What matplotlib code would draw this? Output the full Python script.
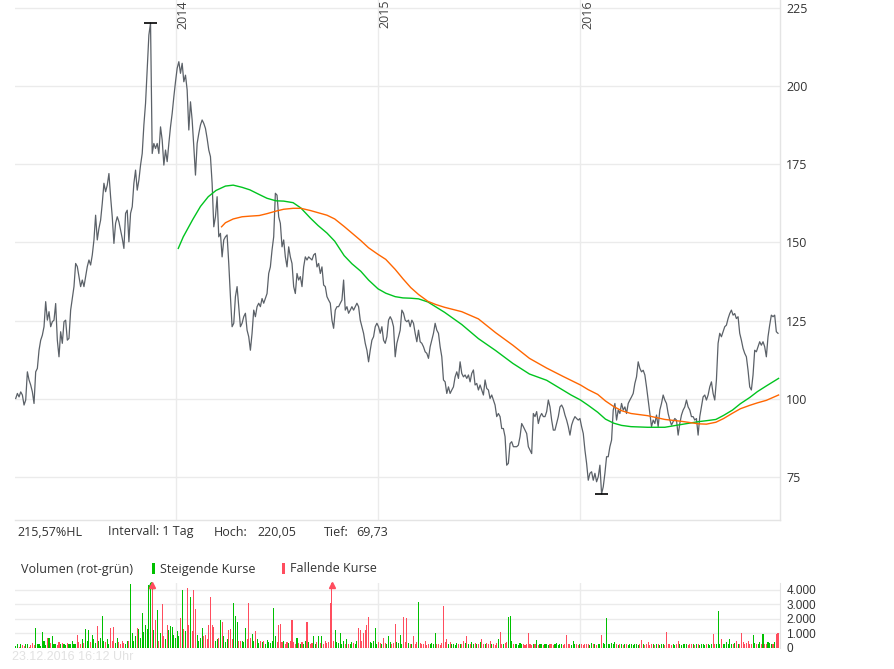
import matplotlib
matplotlib.use('Agg')
import matplotlib.pyplot as plt
import matplotlib.dates as mdates
from matplotlib.patches import Rectangle
import pandas as pd

# ---------------- data ----------------
price_start = '2013-03-19'   # first close, then one value every 3 days
price = [
    100.2, 101.8, 100.7, 102.3, 101.3, 98.1, 99.7, 108.7, 106.1, 104.5,
    102.3, 98.6, 108.7, 109.8, 115.6, 118.8, 120.4, 123.1, 131.1, 125.2,
    127.9, 123.1, 124.7, 125.2, 130.5, 118.8, 113.5, 121.5, 117.8, 124.7,
    125.2, 118.8, 119.4, 128.4, 132.1, 135.9, 143.3, 142.3, 139.1, 135.9,
    138.0, 135.9, 139.1, 142.3, 144.4, 142.8, 146.0, 150.8, 158.7, 150.8,
    154.5, 157.1, 162.5, 168.9, 166.2, 168.3, 172.0, 164.6, 158.2, 149.7,
    156.1, 158.2, 156.6, 153.9, 151.3, 148.1, 159.3, 160.3, 150.2, 159.3,
    161.4, 168.9, 173.1, 166.7, 169.9, 174.7, 178.4, 187.5, 194.4, 205.6,
    216.2, 220.05, 178.4, 181.6, 180.0, 181.6, 178.4, 186.9, 182.7, 174.7,
    179.5, 175.8, 181.6, 186.9, 191.2, 196.5, 201.3, 205.6, 207.7, 204.0,
    207.2, 201.3, 203.4, 198.7, 185.9, 194.9, 189.1, 180.6, 171.5, 181.6,
    184.8, 187.5, 189.1, 188.0, 186.4, 183.2, 179.5, 177.4, 168.9,
    155.0, 158.2, 164.6, 151.8, 152.9, 145.4, 150.8, 151.8, 152.4, 143.3,
    132.7, 123.1, 124.2, 132.7, 135.9, 129.5, 123.1, 124.2, 126.3, 127.4,
    122.0, 119.9, 115.6, 121.0, 128.4, 126.3, 129.5, 130.6, 129.5, 132.1,
    130.6, 132.1, 133.7, 140.1, 142.2, 147.6, 151.8, 165.7, 165.1, 158.2,
    156.1, 148.6, 150.8, 145.4, 142.2, 148.6, 145.4, 143.3, 135.9, 133.7,
    140.1, 138.0, 139.1, 135.9, 142.2, 145.4, 144.4, 145.4, 144.9, 144.4,
    146.0, 146.5, 142.2, 143.3, 140.1, 142.2, 136.4, 135.9, 132.7, 131.6,
    130.6, 125.2, 122.6, 128.4, 129.5, 129.5, 130.6, 131.6, 138.0, 128.4,
    129.5, 127.4, 128.4, 129.5, 128.4, 129.5, 130.6, 129.5, 125.2, 123.1,
    121.0, 117.8, 115.6, 111.9, 115.6, 118.8, 119.9, 123.1, 124.2, 123.1,
    121.0, 123.1, 118.8, 117.8, 119.9, 125.2, 126.3, 125.2, 123.1, 113.5,
    117.8, 119.9, 122.0, 128.4, 127.4,
    125.2, 124.7, 125.2, 123.1, 125.2, 124.2, 121.0, 118.3, 122.0, 118.3,
    117.8, 116.7, 115.1, 114.6, 113.0, 116.7, 118.8, 121.0, 124.2, 122.0,
    121.0, 116.7, 113.5, 106.1, 105.5, 101.8, 103.9, 101.8, 102.9, 103.9,
    107.1, 108.7, 106.6, 111.9, 108.2, 107.1, 107.7, 106.6, 107.7, 105.5,
    108.2, 109.3, 104.5, 105.0, 102.9, 104.5, 102.9, 101.3, 106.1, 103.4,
    102.9, 100.2, 101.3, 99.7, 98.1, 94.4, 95.4, 94.4, 90.6, 90.6,
    88.0, 78.9, 79.5, 85.8, 86.4, 84.8, 84.8, 84.8, 85.3, 88.0,
    92.2, 91.2, 90.1, 89.0, 84.8, 83.7, 82.6, 95.4, 94.4, 96.0,
    92.2, 94.4, 95.4, 94.4, 94.4, 96.0, 99.7, 97.5, 93.3, 90.1,
    90.1, 92.2, 94.4, 97.5, 98.1, 97.0, 94.9, 93.3, 91.2, 88.5,
    91.7, 93.3, 94.4, 93.8, 93.3, 93.8, 91.2, 89.0, 83.7, 79.5,
    74.1, 76.3, 76.8, 74.1,
    76.3, 73.6, 75.2, 78.9, 69.73, 72.0, 76.3, 81.6, 81.6, 84.8,
    86.9, 96.5, 98.6, 93.3, 96.5, 95.4, 98.6, 96.5, 97.5, 95.4,
    98.6, 99.7, 100.7, 101.8, 105.0, 107.1, 111.9, 109.8, 108.7, 109.2,
    107.7, 103.9, 99.7, 95.4, 91.2, 93.3, 92.2, 94.9, 91.2, 96.5,
    98.6, 101.3, 99.7, 98.6, 95.4, 93.3, 91.7, 92.8, 93.8, 93.3,
    88.5, 92.2, 94.9, 96.5, 97.5, 99.7, 97.5, 96.5, 94.4, 94.4,
    93.3, 93.8, 88.5, 94.4, 97.5, 100.7, 101.3, 99.7, 101.3, 103.9,
    105.5, 101.8, 99.7, 106.1, 117.8, 121.0, 119.9, 121.5, 123.1, 123.6,
    125.7, 127.3, 128.4, 126.8, 127.3, 125.7, 126.3, 121.0, 118.8, 116.2,
    114.6, 113.5, 109.2, 103.9, 102.9, 107.7, 115.6, 115.1, 116.7, 118.3,
    117.2, 118.3, 116.7, 113.5, 119.9, 123.6, 126.8, 126.3, 126.8, 121.5,
    121.0,
]

volume = [
    150, 250, 100, 300, 200, 150, 300, 250, 100, 200,
    350, 200, 1400, 300, 250, 150, 1100, 500, 200, 700,
    700, 350, 800, 250, 300, 200, 400, 250, 350, 300,
    200, 350, 250, 300, 450, 300, 250, 900, 400, 300,
    600, 350, 1300, 500, 1250, 400, 900, 600, 350, 1500,
    450, 700, 2200, 500, 400, 600, 300, 1350, 500, 1450,
    350, 700, 400, 300, 500, 350, 300, 450, 500, 4400,
    1000, 500, 800, 1350, 1300, 700, 2400, 1100, 1600, 1300,
    4300, 6000, 5500, 1200, 1900, 2600, 450, 1000, 3000, 800,
    600, 1600, 1250, 1500, 1450, 900, 700, 1150, 800, 2050,
    4000, 1300, 1150, 4100, 1600, 3500, 1150, 4000, 2650, 900,
    500, 700, 1370, 800, 900, 600, 1600, 3500, 1600, 1450,
    500, 600, 700, 1950, 1750, 800, 400, 600, 1250, 1300,
    600, 3050, 2200, 1750, 500, 450, 500, 400, 1350, 600,
    3050, 700, 980, 500, 1150, 600, 350, 500, 400, 450,
    300, 550, 400, 350, 500, 2750, 850, 400, 1600, 1650,
    400, 500, 300, 400, 350, 450, 1950, 400, 300, 700,
    350, 300, 400, 250, 500, 1800, 400, 300, 350, 850,
    300, 400, 800, 350, 800, 300, 450, 350, 400, 3100,
    5000, 500, 1200, 400, 350, 1050, 300, 450, 250, 600,
    300, 250, 400, 350, 300, 450, 1400, 1200, 500, 1000,
    1200, 1550, 2100, 400, 350, 500, 1400, 300, 400, 350,
    300, 700, 350, 250, 850, 400, 300, 350, 1650, 400,
    350, 900, 300, 2100, 400, 2050, 350, 300, 250, 800,
    300, 400, 3150, 350, 250, 300, 450, 200, 300, 250,
    350, 300, 1050, 250, 300, 200, 350, 2900, 400, 600,
    300, 400, 250, 300, 200, 350, 300, 250, 300, 500,
    350, 800, 300, 250, 400, 300, 350, 250, 300, 400,
    650, 300, 250, 350, 300, 450, 250, 300, 200, 350,
    600, 1100, 300, 250, 350, 400, 2150, 2200, 500, 300,
    250, 300, 200, 350, 250, 300, 200, 250, 1030, 300,
    200, 300, 250, 550, 200, 300, 250, 200, 300, 250,
    200, 250, 300, 200, 250, 350, 200, 300, 250, 200,
    300, 900, 250, 300, 200, 500, 250, 300, 200, 250,
    300, 200, 250, 250, 300, 200, 350, 250, 300, 200,
    250, 300, 870, 350, 250, 2080, 300, 250, 350, 300,
    400, 250, 200, 300, 250, 200, 300, 250, 200, 300,
    250, 200, 300, 250, 200, 300, 550, 250, 200, 300,
    400, 200, 250, 300, 200, 250, 300, 200, 250, 300,
    200, 1100, 250, 300, 200, 250, 200, 300, 500, 250,
    200, 250, 300, 300, 200, 250, 300, 300, 200, 250,
    300, 200, 250, 300, 200, 250, 300, 200, 250, 980,
    300, 250, 2550, 300, 600, 250, 300, 400, 250, 600,
    300, 250, 350, 500, 300, 250, 1050, 400, 300, 350,
    450, 300, 250, 900, 350, 300, 250, 400, 300, 980,
    300, 250, 400, 350, 300, 250, 400, 980, 1050,
]

# moving averages
green_dates = [
    '2014-01-06', '2014-01-15', '2014-02-01', '2014-02-15', '2014-03-01', '2014-03-15',
    '2014-04-01', '2014-04-15', '2014-05-01', '2014-05-15', '2014-06-01', '2014-06-15',
    '2014-07-01', '2014-07-15', '2014-08-01', '2014-08-15', '2014-09-01', '2014-09-15',
    '2014-10-01', '2014-10-15', '2014-11-01', '2014-11-15', '2014-12-01', '2014-12-15',
    '2015-01-01', '2015-01-15', '2015-02-01', '2015-02-15', '2015-03-01', '2015-03-15',
    '2015-04-01', '2015-05-01', '2015-06-01', '2015-07-01', '2015-08-01', '2015-09-01',
    '2015-10-01', '2015-11-01', '2015-12-01', '2015-12-15', '2016-01-01', '2016-01-15',
    '2016-02-01', '2016-02-15', '2016-03-01', '2016-03-15', '2016-04-01', '2016-05-01',
    '2016-06-01', '2016-07-01', '2016-08-01', '2016-08-15', '2016-09-01', '2016-09-15',
    '2016-10-01', '2016-10-15', '2016-11-01', '2016-11-15', '2016-12-01', '2016-12-23',
]
ma_green = [
    148.1, 151.8, 157.3, 161.5, 164.6, 166.6,
    168.0, 168.3, 167.6, 166.8, 165.3, 164.1,
    163.3, 163.2, 162.7, 161.0, 157.8, 155.4,
    153.0, 150.4, 145.8, 143.2, 140.8, 138.0,
    135.2, 133.8, 132.7, 132.3, 132.2, 132.0,
    131.0, 127.7, 123.8, 119.3, 115.5, 111.4,
    108.0, 106.0, 102.8, 101.3, 99.7, 98.0,
    95.8, 93.6, 92.3, 91.6, 91.2, 91.0,
    91.0, 91.9, 92.8, 93.1, 93.5, 94.8,
    96.5, 98.5, 100.5, 102.4, 104.2, 106.6,
]
orange_dates = [
    '2014-03-25', '2014-04-01', '2014-04-15', '2014-05-01', '2014-05-15', '2014-06-01',
    '2014-06-15', '2014-07-01', '2014-07-15', '2014-08-01', '2014-08-15', '2014-09-01',
    '2014-09-15', '2014-10-01', '2014-10-15', '2014-11-01', '2014-11-15', '2014-12-01',
    '2014-12-15', '2015-01-01', '2015-01-15', '2015-02-01', '2015-02-15', '2015-03-01',
    '2015-03-15', '2015-04-01', '2015-04-15', '2015-05-01', '2015-06-01', '2015-07-01',
    '2015-08-01', '2015-09-01', '2015-10-01', '2015-11-01', '2015-12-01', '2016-01-01',
    '2016-01-15', '2016-02-01', '2016-02-15', '2016-03-01', '2016-03-15', '2016-04-01',
    '2016-05-01', '2016-06-01', '2016-07-01', '2016-08-01', '2016-08-15', '2016-09-01',
    '2016-09-15', '2016-10-01', '2016-10-15', '2016-11-01', '2016-11-15', '2016-12-01',
    '2016-12-23',
]
ma_orange = [
    155.0, 156.3, 157.5, 158.2, 158.4, 158.6,
    159.2, 160.0, 160.6, 160.9, 160.9, 160.2,
    159.5, 158.7, 157.5, 155.1, 153.0, 150.6,
    148.3, 146.2, 144.6, 141.4, 138.4, 135.6,
    133.4, 131.2, 130.2, 129.3, 127.9, 125.6,
    121.2, 117.2, 113.0, 109.9, 107.2, 104.5,
    103.0, 101.5, 99.4, 97.6, 96.3, 95.4,
    94.7, 93.5, 92.9, 92.1, 92.0, 92.6,
    93.8, 95.5, 96.9, 98.0, 98.8, 99.6,
    101.3,
]

years = ['2014', '2015', '2016']
price_ticks = [75, 100, 125, 150, 175, 200, 225]
vol_ticks = [0, 1000, 2000, 3000, 4000]
vol_labels = ['0', '1.000', '2.000', '3.000', '4.000']

# ---------------- build ----------------
dates = pd.date_range(price_start, periods=len(price), freq='3D')
gdates = pd.to_datetime(green_dates)
odates = pd.to_datetime(orange_dates)

W, H = 895, 669
fig = plt.figure(figsize=(W / 100, H / 100), dpi=100)
FONT = 'Open Sans'
GRID = '#ebebeb'
TXT = '#333333'

x0 = mdates.date2num(pd.Timestamp('2014-01-01'))
xlim = (x0 - 289.3, x0 + 1089.6)

# main price axes
ax = fig.add_axes([15 / W, 1 - 520 / H, 765 / W, 520 / H])
ax.set_xlim(xlim)
ax.set_ylim(61.4, 227.4)
for t in price_ticks:
    ax.axhline(t, color=GRID, lw=1, zorder=0)
for y in years:
    ax.axvline(pd.Timestamp(y + '-01-01'), color=GRID, lw=1, zorder=0)
    ax.text(pd.Timestamp(y + '-01-01') + pd.Timedelta(days=1), 227.4, y,
            rotation=90, ha='left', va='top', fontsize=9, color='#444444',
            family=FONT)
for s in ['left', 'top']:
    ax.spines[s].set_visible(False)
for s in ['right', 'bottom']:
    ax.spines[s].set_color('#e4e4e4')
    ax.spines[s].set_linewidth(1)
ax.set_xticks([])
ax.yaxis.tick_right()
ax.set_yticks(price_ticks)
ax.set_yticklabels([str(t) for t in price_ticks], family=FONT)
ax.tick_params(axis='y', length=0, pad=4.5, labelsize=9, labelcolor=TXT)

ax.plot(dates, price, color='#5b6168', lw=0.9, zorder=3)
ax.plot(gdates, ma_green, color='#00c41f', lw=1.0, zorder=4)
ax.plot(odates, ma_orange, color='#ff6600', lw=1.0, zorder=4)

imax = max(range(len(price)), key=lambda i: price[i])
imin = min(range(len(price)), key=lambda i: price[i])
for i in (imax, imin):
    ax.hlines(price[i], dates[i] - pd.Timedelta(days=11), dates[i] + pd.Timedelta(days=11),
              color='black', lw=1.2, zorder=5)

# info line
def ftext(xp, yp, s, **kw):
    fig.text(xp / W, 1 - yp / H, s, va='center', ha='left', fontsize=9,
             family=kw.pop('family', FONT), color=kw.pop('color', TXT), **kw)

ftext(17, 532, '215,57%HL')
ftext(108, 532, 'Intervall: 1 Tag')
ftext(214, 532, 'Hoch:')
ftext(257, 532, '220,05')
ftext(324, 532, 'Tief:')
ftext(356, 532, '69,73')
ftext(21, 569, 'Volumen (rot-grün)')
ftext(160, 569, 'Steigende Kurse')
ftext(290, 569, 'Fallende Kurse')
UP, DOWN = '#00c000', '#ff4d5e'
fig.add_artist(Rectangle((152 / W, 1 - 574 / H), 3 / W, 11 / H, transform=fig.transFigure,
                         color=UP, lw=0))
fig.add_artist(Rectangle((282 / W, 1 - 574 / H), 3 / W, 11 / H, transform=fig.transFigure,
                         color=DOWN, lw=0))
ftext(12, 657, '23.12.2016 16:12 Uhr', color='#e2e2e2', family='Liberation Sans')

# volume axes
VMAX = 4450
ax2 = fig.add_axes([15 / W, 1 - 648 / H, 765 / W, 65 / H])
ax2.set_xlim(xlim)
ax2.set_ylim(0, VMAX)
for t in vol_ticks:
    ax2.axhline(t, color=GRID, lw=1, zorder=0)
for y in years:
    ax2.axvline(pd.Timestamp(y + '-01-01'), color=GRID, lw=1, zorder=0)
for s in ['left', 'top', 'bottom']:
    ax2.spines[s].set_visible(False)
ax2.spines['right'].set_color('#e4e4e4')
ax2.set_xticks([])
ax2.yaxis.tick_right()
ax2.set_yticks(vol_ticks)
ax2.set_yticklabels(vol_labels, family='Liberation Sans')
ax2.tick_params(axis='y', length=0, pad=4.5, labelsize=8.5, labelcolor=TXT)

colors = [UP if i == 0 or price[i] >= price[i - 1] else DOWN for i in range(len(price))]
vclip = [min(v, VMAX) for v in volume]
ax2.bar(dates, vclip, width=1.9, color=colors, lw=0, zorder=2)
for d, v, c in zip(dates, volume, colors):
    if v > VMAX:
        ax2.plot([d], [VMAX - 120], marker='^', ms=5, color=c, mec=c, clip_on=False, zorder=3)

fig.savefig('out.png', dpi=100, facecolor='white')
